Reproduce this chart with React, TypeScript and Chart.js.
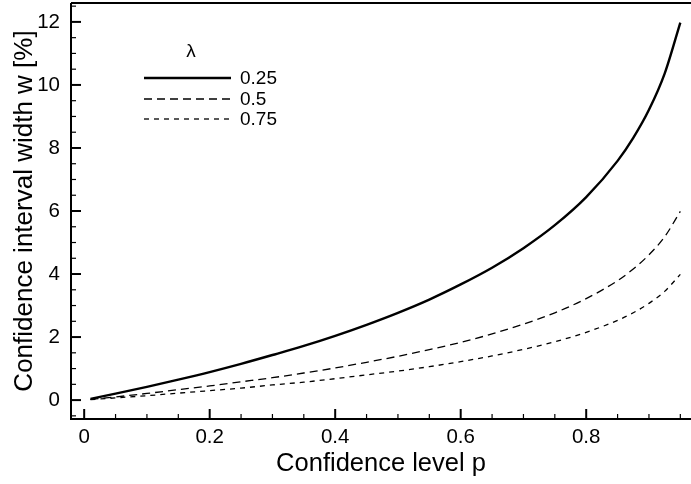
import React, { useEffect, useRef } from "react";
import { Chart, registerables } from "chart.js";

Chart.register(...registerables);

// Confidence level p
const P_VALUES = [0.01, 0.05, 0.1, 0.15, 0.2, 0.25, 0.3, 0.35, 0.4, 0.45, 0.5, 0.55, 0.6, 0.65, 0.7, 0.75, 0.8, 0.85, 0.875, 0.9, 0.925, 0.95];
// Confidence interval width w [%] for each lambda
const W_025 = [0.04, 0.205, 0.42, 0.65, 0.89, 1.15, 1.43, 1.72, 2.04, 2.39, 2.77, 3.19, 3.67, 4.2, 4.82, 5.55, 6.44, 7.59, 8.32, 9.21, 10.36, 11.98];
const W_05 = [0.02, 0.1, 0.21, 0.33, 0.45, 0.58, 0.71, 0.86, 1.02, 1.2, 1.39, 1.6, 1.83, 2.1, 2.41, 2.77, 3.22, 3.79, 4.16, 4.61, 5.18, 5.99];
const W_075 = [0.013, 0.07, 0.14, 0.22, 0.3, 0.38, 0.48, 0.57, 0.68, 0.8, 0.92, 1.06, 1.22, 1.4, 1.61, 1.85, 2.15, 2.53, 2.77, 3.07, 3.45, 3.99];
const SERIES_LABELS = ["0.25", "0.5", "0.75"];
const LEGEND_TITLE = "λ";

const X_TICKS = [0, 0.2, 0.4, 0.6, 0.8];
const Y_TICKS = [0, 2, 4, 6, 8, 10, 12];
const X_MINOR_STEP = 0.05;
const Y_MINOR_STEP = 0.5;

const X_TITLE = "Confidence level p";
const Y_TITLE = "Confidence interval width w [%]";

const FONT = "'Liberation Sans', Arial, Helvetica, sans-serif";

const framePlugin = {
  id: "frameTicks",
  afterDraw(chart: any) {
    const { ctx, chartArea } = chart;
    const { left, right, top, bottom } = chartArea;
    const xs = chart.scales.x;
    const ys = chart.scales.y;
    ctx.save();
    ctx.strokeStyle = "#000";
    // frame
    ctx.lineWidth = 2;
    ctx.beginPath();
    ctx.moveTo(left, top);
    ctx.lineTo(right, top);
    ctx.moveTo(left, top);
    ctx.lineTo(left, bottom);
    ctx.lineTo(right, bottom);
    ctx.stroke();
    // x ticks (inward)
    const xMin = xs.min, xMax = xs.max;
    for (let k = Math.ceil(xMin / X_MINOR_STEP); k * X_MINOR_STEP <= xMax + 1e-9; k++) {
      const v = k * X_MINOR_STEP;
      const isMajor = Math.abs(v / 0.2 - Math.round(v / 0.2)) < 1e-6;
      const px = xs.getPixelForValue(v);
      ctx.lineWidth = isMajor ? 2 : 1.2;
      ctx.beginPath();
      ctx.moveTo(px, bottom);
      ctx.lineTo(px, bottom - (isMajor ? 10 : 5));
      ctx.stroke();
    }
    const yMin = ys.min, yMax = ys.max;
    for (let k = Math.ceil(yMin / Y_MINOR_STEP); k * Y_MINOR_STEP <= yMax + 1e-9; k++) {
      const v = k * Y_MINOR_STEP;
      const isMajor = Math.abs(v / 2 - Math.round(v / 2)) < 1e-6;
      const py = ys.getPixelForValue(v);
      ctx.lineWidth = isMajor ? 2 : 1.2;
      ctx.beginPath();
      ctx.moveTo(left, py);
      ctx.lineTo(left + (isMajor ? 10 : 5), py);
      ctx.stroke();
    }
    // legend
    ctx.fillStyle = "#000";
    ctx.font = `19px ${FONT}`;
    ctx.textAlign = "center";
    ctx.textBaseline = "middle";
    ctx.fillText(LEGEND_TITLE, 191, 52);
    const rowsY = [78, 99, 119];
    chart.data.datasets.forEach((ds: any, i: number) => {
      const y = rowsY[i];
      ctx.lineWidth = ds.borderWidth;
      ctx.setLineDash(ds.borderDash || []);
      ctx.beginPath();
      ctx.moveTo(144, y);
      ctx.lineTo(231, y);
      ctx.stroke();
      ctx.setLineDash([]);
      ctx.textAlign = "left";
      ctx.fillText(ds.label, 240, y + 1);
    });
    ctx.restore();
  },
};

export default function App() {
  const canvasRef = useRef<HTMLCanvasElement | null>(null);

  useEffect(() => {
    if (!canvasRef.current) return;
    const mk = (vals: number[]) => P_VALUES.map((p, i) => ({ x: p, y: vals[i] }));
    const chart = new Chart(canvasRef.current, {
      type: "line",
      data: {
        datasets: [
          { label: SERIES_LABELS[0], data: mk(W_025), borderColor: "#000", borderWidth: 2.4, borderDash: [], pointRadius: 0, cubicInterpolationMode: "monotone", fill: false },
          { label: SERIES_LABELS[1], data: mk(W_05), borderColor: "#000", borderWidth: 1.3, borderDash: [8, 5], pointRadius: 0, cubicInterpolationMode: "monotone", fill: false },
          { label: SERIES_LABELS[2], data: mk(W_075), borderColor: "#000", borderWidth: 1.3, borderDash: [5, 5], pointRadius: 0, cubicInterpolationMode: "monotone", fill: false },
        ],
      },
      options: {
        animation: false,
        responsive: false,
        maintainAspectRatio: false,
        layout: { padding: { top: 3, right: 0, left: 0, bottom: 0 } },
        plugins: { legend: { display: false }, tooltip: { enabled: false } },
        scales: {
          x: {
            type: "linear",
            min: -0.021,
            max: 0.967,
            grid: { display: false, drawTicks: false },
            border: { display: false },
            afterBuildTicks: (s: any) => { s.ticks = X_TICKS.map((v) => ({ value: v })); },
            afterFit: (s: any) => { s.height = 65; s.paddingLeft = 0; s.paddingRight = 0; },
            ticks: {
              color: "#000",
              padding: 6,
              font: { family: FONT, size: 20.5 },
              maxRotation: 0,
              autoSkip: false,
              callback: (v: any) => String(v),
            },
            title: {
              display: true,
              text: X_TITLE,
              color: "#000",
              font: { family: FONT, size: 25.5 },
              padding: { top: 0, bottom: 4.7 },
            },
          },
          y: {
            type: "linear",
            min: -0.6,
            max: 12.6,
            grid: { display: false, drawTicks: false },
            border: { display: false },
            afterBuildTicks: (s: any) => { s.ticks = Y_TICKS.map((v) => ({ value: v })); },
            afterFit: (s: any) => { s.width = 71; s.paddingTop = 0; s.paddingBottom = 0; },
            ticks: {
              color: "#000",
              padding: 11,
              font: { family: FONT, size: 20.5 },
              autoSkip: false,
              callback: (v: any) => String(v),
            },
            title: {
              display: true,
              text: Y_TITLE,
              color: "#000",
              font: { family: FONT, size: 26 },
              padding: { top: 9.4, bottom: 0 },
            },
          },
        },
      },
      plugins: [framePlugin],
    } as any);
    return () => chart.destroy();
  }, []);

  return (
    <div style={{ position: "fixed", left: 0, top: 0, width: 691, height: 484, background: "#fff" }}>
      <canvas ref={canvasRef} width={691} height={484} style={{ width: 691, height: 484, display: "block" }} />
    </div>
  );
}
